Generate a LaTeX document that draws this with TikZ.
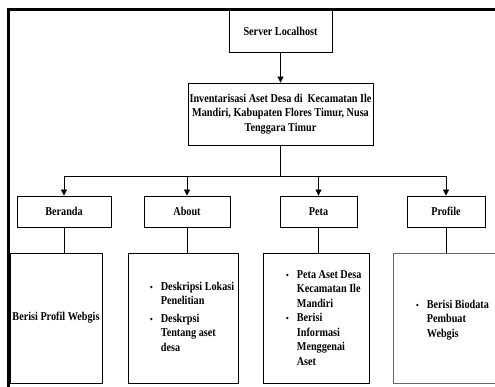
\documentclass[tikz,border=0pt]{standalone}
\usepackage{fontspec}
\setmainfont{Liberation Serif}[FakeStretch=0.85]
\usetikzlibrary{arrows.meta}
\newcommand{\bul}{{\fontsize{9}{9}\selectfont •}}
\begin{document}
\begin{tikzpicture}[x=1pt,y=-1pt,
  box/.style={draw, line width=0.8pt, inner sep=0pt, align=center, font=\bfseries\fontsize{12}{14.5}\selectfont},
  txt/.style={inner sep=0pt, align=left, font=\bfseries\fontsize{12}{14.5}\selectfont},
  arr/.style={-{Triangle[length=6pt,width=6pt]}, line width=0.8pt},
  ln/.style={line width=0.8pt}]
\useasboundingbox (0,0) rectangle (495,387);
\clip (0,0) rectangle (495,387);
\draw[line width=3pt] (8.5,400) -- (8.5,9.5) -- (510,9.5);

\node[box, minimum width=103pt, minimum height=42pt] (srv) at (280.5,31) {Server Localhost};
\node[box, minimum width=185pt, minimum height=62pt] (inv) at (280.5,114)
  {Inventarisasi Aset Desa di\ \ Kecamatan Ile\\ Mandiri, Kabupaten Flores Timur, Nusa\\ Tenggara Timur};

\node[box, minimum width=94pt, minimum height=31pt] (ber) at (64,211.5) {Beranda};
\node[box, minimum width=86pt, minimum height=31pt] (abt) at (187,211.5) {About};
\node[box, minimum width=77pt, minimum height=31pt] (pet) at (318.5,211.5) {Peta};
\node[box, minimum width=78pt, minimum height=31pt] (prf) at (446,211.5) {Profile};

\node[box, minimum width=92pt, minimum height=130pt] (b1) at (56,318) {};
\node[box, minimum width=110pt, minimum height=130pt] (b2) at (183,318) {};
\node[box, minimum width=106pt, minimum height=130pt] (b3) at (316,318) {};
\node[box, draw=black!60, minimum width=112pt, minimum height=130pt] (b4) at (449,318) {};

\node[txt] (t1) at (b1) {Berisi Profil Webgis};
\node[txt, anchor=west] (t2) at (150,318) {\begin{tabular}{@{}l@{\hspace{8pt}}l@{}}
  \bul & Deskripsi Lokasi\\ & Penelitian\\[3pt] \bul & Deskrpsi\\ & Tentang aset\\ & desa\end{tabular}};
\node[txt, anchor=west] (t3) at (286,319) {\begin{tabular}{@{}l@{\hspace{8pt}}l@{}}
  \bul & Peta Aset Desa\\ & Kecamatan Ile\\ & Mandiri\\ \bul & Berisi\\ & Informasi\\ & Menggenai\\ & Aset\end{tabular}};
\node[txt, anchor=west] (t4) at (416,320) {\begin{tabular}{@{}l@{\hspace{8pt}}l@{}}
  \bul & Berisi Biodata\\ & Pembuat\\ & Webgis\end{tabular}};

\draw[arr] (srv) -- (inv);
\coordinate (j) at (280.5,176);
\draw[ln] (inv) -- (j);
\draw[ln] (ber.north |- j) -- (prf.north |- j);
\foreach \n in {ber,abt,pet,prf} {
  \draw[arr] (\n.north |- j) -- (\n.north);
}
\draw[ln] (ber) -- (ber |- b1.north);
\draw[ln] (abt) -- (abt |- b2.north);
\draw[ln] (pet) -- (pet |- b3.north);
\draw[ln] (prf) -- (prf |- b4.north);
\end{tikzpicture}
\end{document}
